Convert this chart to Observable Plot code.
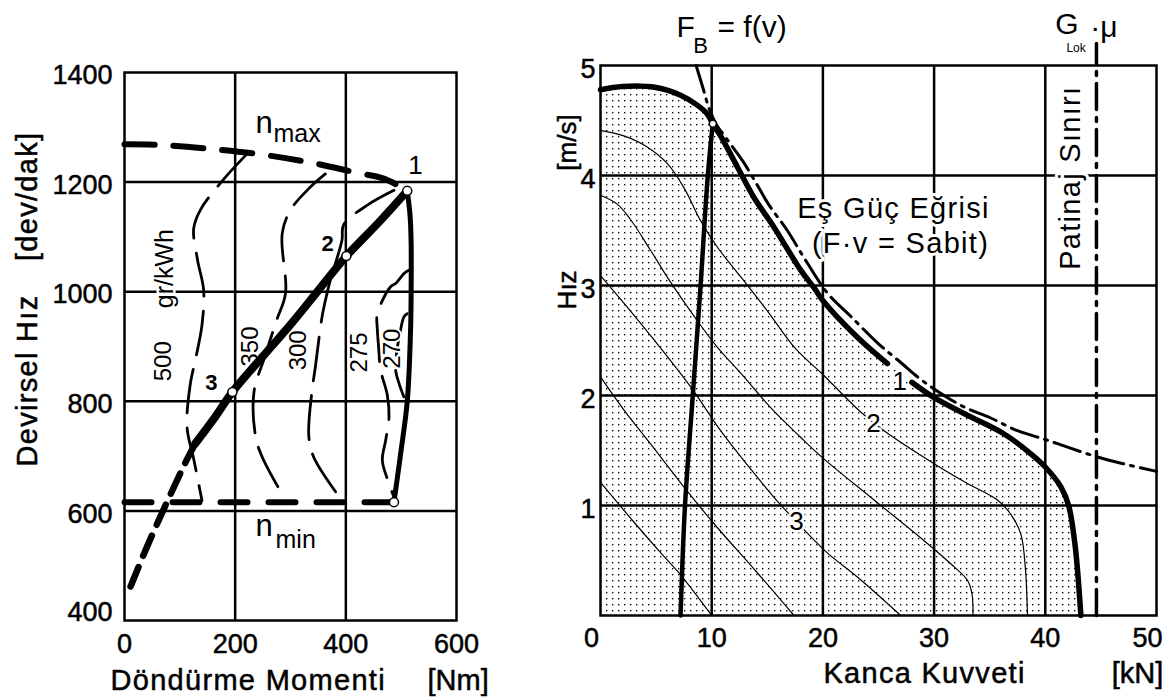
<!DOCTYPE html>
<html><head><meta charset="utf-8">
<script src="https://cdn.jsdelivr.net/npm/d3@7"></script>
<script src="https://cdn.jsdelivr.net/npm/@observablehq/plot@0.6"></script>
<style>
body{margin:0;background:#fff;}
#wrap{position:relative;width:1176px;height:700px;overflow:hidden;background:#fff;}
#left{position:absolute;left:0;top:0;}
#right{position:absolute;left:560px;top:0;}
g[aria-label="x-axis tick label"] text, g[aria-label="y-axis tick label"] text {stroke:black;stroke-width:0.5px;}
</style></head><body>
<div id="wrap"><div id="left"></div><div id="right"></div></div>
<script>
// ================= LEFT PANEL DATA (torque [Nm], speed [dev/dak]) =================
const leftTicksX = [0, 200, 400, 600];
const leftTicksY = [400, 600, 800, 1000, 1200, 1400];
const leftGridX = [200, 400];
const leftGridY = [600, 800, 1000, 1200];

const nMax = [[0,1269],[60,1268],[150,1261],[250,1250],[340,1235],[420,1217],[470,1206],[511,1184]];
const nMin = [[0,616],[487,616]];
const optimalSolid = [[128,723],[160,766],[195,817],[250,882],[300,940],[350,1002],[401,1065],[460,1127],[511,1184]];
const optimalDashed = [[128,723],[110,688],[90,645],[65,590],[40,533],[11,462]];
const fullLoad = [[511,1184],[516,1140],[518,1090],[518,1000],[517,930],[511,800],[499,704],[487,616]];
const c500 = [[222,1252],[179,1205],[137,1149],[125,1115],[132,1058],[143,1003],[140,939],[128,875],[119,832],[113,753],[125,695],[140,619]];
const c350 = [[363,1215],[336,1191],[300,1149],[285,1106],[291,997],[275,948],[253,880],[234,817],[237,735],[249,698],[288,625]];
const c300 = [[487,1185],[439,1158],[396,1122],[393,1094],[372,1021],[366,997],[357,954],[345,863],[339,820],[333,738],[342,698],[393,619]];
const c275 = [[514,1039],[505,1033],[490,1015],[481,1009],[457,960],[457,930],[459,902],[463,857],[475,811],[478,771],[472,729],[466,692],[478,650],[487,625]];
const c270 = [[511,960],[505,954],[498,925],[492,890],[490,857],[497,830],[505,808]];
const leftPoints = [[511,1184],[401,1065],[195,817],[487,616]];
const leftNumLabels = [{t:"2",x:367,y:1088},{t:"3",x:157,y:833}];
const leftOneLabel = [{t:"1",x:526,y:1230}];
const contourLabels = [{t:"500",x:69.6,y:873},{t:"350",x:227.7,y:900},{t:"300",x:314.5,y:893},{t:"275",x:424.7,y:889},{t:"270",x:484.3,y:896}];
const unitLabel = [{t:"gr/kWh",x:72.3,y:1042}];
const nLabels = [{t:"n",x:236.7,y:1288.7},{t:"n",x:236.7,y:555}];
const nSubLabels = [{t:"max",x:269.3,y:1272.3},{t:"min",x:272.9,y:533.2}];
const leftTitleX = [{t:"Döndürme Momenti",x:-25.3,y:272.3},{t:"[Nm]",x:547.6,y:272.3}];
const leftTitleY = [{t:"Devirsel Hız",x:-175,y:838},{t:"[dev/dak]",x:-175,y:1174}];

// ================= RIGHT PANEL DATA (hook force [kN], speed [m/s]) =================
const rightTicksInner = [10, 20, 30, 40];
const rightTicksEdge = [0, 50];
const rightTicksY = [1, 2, 3, 4, 5];
const rightGridX = [10, 20, 30, 40];
const rightGridY = [1, 2, 3, 4];

const envelope = [[0,4.78],[2,4.81],[5,4.80],[7.2,4.73],[8.7,4.64],[9.6,4.56],[10.1,4.47],[10.8,4.36],[12.3,4.08],[13.8,3.80],[15.6,3.53],[18,3.14],[19.2,2.98],[20.1,2.85],[23.1,2.53],[25.8,2.29],[28,2.12],[30,1.98],[33,1.82],[36.3,1.65],[38.7,1.47],[40,1.35],[41.4,1.17],[42.1,1.0],[42.7,0.62],[43.2,0]];
const isoPower = [[8.6,5.0],[9.2,4.8],[9.8,4.6],[10.5,4.45],[11.3,4.34],[12.8,4.13],[14,3.93],[15.1,3.74],[16.8,3.5],[18.5,3.22],[20.5,2.92],[22.5,2.72],[25,2.47],[27,2.3],[28.5,2.17],[30,2.06],[32.6,1.9],[35,1.8],[37.5,1.68],[40,1.6],[42,1.53],[44.4,1.45],[47,1.38],[50,1.31]];
const curveA = [[0,4.41],[2.1,4.36],[4.2,4.26],[6,4.11],[7.5,3.89],[9,3.59],[10.5,3.35],[12.6,3.08],[15,2.77],[17.5,2.43],[19.9,2.2],[23.4,1.85],[25.5,1.68],[30,1.38],[33,1.2],[35.7,1.05],[36.9,0.92],[37.8,0.74],[38.2,0.44],[38.4,0]];
const curveB = [[0,3.82],[1.5,3.74],[2.7,3.6],[4.5,3.32],[6.3,3.03],[8.7,2.68],[10.5,2.44],[12.9,2.17],[15.3,1.89],[18,1.62],[19.9,1.44],[24.6,1.05],[29.1,0.68],[31.5,0.47],[33,0.32],[33.4,0.2],[33.5,0]];
const curveC = [[0,3.09],[2.1,2.84],[5.1,2.47],[8.1,2.08],[10.8,1.68],[13.2,1.37],[15.9,1.04],[18.4,0.77],[20.5,0.56],[23.1,0.35],[27,0]];
const curveD = [[0,2.17],[2.1,1.87],[4.5,1.56],[7.8,1.13],[10.5,0.8],[14,0.4],[17.4,0]];
const curveE = [[0,1.21],[3,0.85],[5.5,0.56],[7.2,0.37],[10,0]];
const tractionFB = [[7.2,0],[7.6,1.0],[8.3,2.0],[9.0,3.0],[9.65,4.0],[10.1,4.47]];
const slipLimit = [[44.6,0],[44.6,5.2]];
const rightPoints = [[10.1,4.47]];
const curveNumLabels = [{t:"1",x:26.9,y:2.13},{t:"2",x:24.55,y:1.745},{t:"3",x:17.63,y:0.855}];
const isoLabels = [{t:"Eş Güç Eğrisi",x:26.35,y:3.61},{t:"(F·v = Sabit)",x:26.98,y:3.30}];
const slipLabel = [{t:"Patinaj Sınırı",x:42.27,y:3.98}];
const topBig = [{t:"F",x:6.83,y:5.255},{t:"= f(v)",x:10.52,y:5.255},{t:"G",x:40.9,y:5.29},{t:"·μ",x:44.05,y:5.26}];
const topSub = [{t:"B",x:8.35,y:5.118,s:22},{t:"Lok",x:41.9,y:5.125,s:12}];
const rightTitleX = [{t:"Kanca Kuvveti",x:29.14,y:-0.618},{t:"[kN]",x:48.3,y:-0.618}];
const rightTitleY = [{t:"Hız",x:-2.95,y:2.96},{t:"[m/s]",x:-2.95,y:4.3}];

// ================= DRAW =================
const FONT = "'Liberation Sans', Arial, Helvetica, sans-serif";
const xy = a => a.map(([x, y]) => ({x, y}));
const style = {fontFamily: FONT, fontSize: "27px", color: "black", background: "white", overflow: "visible"};
const gridOpt = {stroke: "black", strokeOpacity: 1, strokeWidth: 2.5};
const fmt = d => String(d);
const txt = (data, o) => Plot.text(data, {x: "x", y: "y", text: "t", fill: "black", ...o});
const heavy = {stroke: "black", strokeWidth: 0.5};

const left = Plot.plot({
  width: 560, height: 700, marginLeft: 124, marginRight: 104, marginTop: 72, marginBottom: 80,
  style,
  x: {domain: [0, 600], range: [124, 456]},
  y: {domain: [400, 1400], range: [620, 72]},
  marks: [
    Plot.gridX(leftGridX, gridOpt),
    Plot.gridY(leftGridY, gridOpt),
    Plot.frame({stroke: "black", strokeWidth: 2.5}),
    Plot.axisX(leftTicksX, {tickSize: 0, tickPadding: 13, tickFormat: fmt, fontSize: 27, label: null}),
    Plot.axisY(leftTicksY.filter(d => d > 400), {tickSize: 0, tickPadding: 12, tickFormat: fmt, fontSize: 27, dy: 3, label: null}),
    Plot.axisY([400], {tickSize: 0, tickPadding: 12, tickFormat: fmt, fontSize: 27, dy: -8, label: null}),
    // fuel consumption contours
    ...[c500, c350, c300, c275, c270].map(c =>
      Plot.line(xy(c), {x: "x", y: "y", stroke: "black", strokeWidth: 2.8, strokeDasharray: "44,15", curve: "catmull-rom"})),
    txt(contourLabels, {rotate: -90, fontSize: 24, stroke: "white", strokeWidth: 4}),
    txt(unitLabel, {rotate: -90, fontSize: 25, stroke: "white", strokeWidth: 5}),
    // speed limits
    Plot.line(xy(nMax), {x: "x", y: "y", stroke: "black", strokeWidth: 6, strokeDasharray: "30,19", curve: "catmull-rom"}),
    Plot.line(xy(nMin), {x: "x", y: "y", stroke: "black", strokeWidth: 6, strokeDasharray: "27,21"}),
    // full-load torque curve
    Plot.line(xy(fullLoad), {x: "x", y: "y", stroke: "black", strokeWidth: 5, curve: "catmull-rom"}),
    // optimum operating line
    Plot.line(xy(optimalSolid), {x: "x", y: "y", stroke: "black", strokeWidth: 8, curve: "catmull-rom"}),
    Plot.line(xy(optimalDashed), {x: "x", y: "y", stroke: "black", strokeWidth: 6.5, strokeDasharray: "22,12", curve: "catmull-rom"}),
    Plot.dot(xy(leftPoints), {x: "x", y: "y", r: 4.5, fill: "white", stroke: "black", strokeWidth: 1.5}),
    txt(leftNumLabels, {fontSize: 22, fontWeight: "bold"}),
    txt(leftOneLabel, {fontSize: 26}),
    txt(nLabels, {fontSize: 31, textAnchor: "start", lineAnchor: "bottom"}),
    txt(nSubLabels, {fontSize: 25, textAnchor: "start", lineAnchor: "bottom"}),
    txt(leftTitleX, {fontSize: 29, textAnchor: "start", lineAnchor: "bottom", ...heavy}),
    txt(leftTitleY, {fontSize: 29, rotate: -90, ...heavy})
  ]
});
document.getElementById("left").appendChild(left);

const right = Plot.plot({
  width: 616, height: 700, marginLeft: 40, marginRight: 20, marginTop: 65, marginBottom: 85,
  style,
  x: {domain: [0, 50], range: [40, 596]},
  y: {domain: [0, 5], range: [615, 65]},
  marks: [
    Plot.areaY(xy(envelope), {x: "x", y: "y", fill: "url(#dots)", curve: "catmull-rom"}),
    Plot.gridX(rightGridX, gridOpt),
    Plot.gridY(rightGridY, gridOpt),
    Plot.frame({stroke: "black", strokeWidth: 2.5}),
    Plot.axisX(rightTicksInner, {tickSize: 0, tickPadding: 12, tickFormat: fmt, fontSize: 27, label: null}),
    Plot.axisX(rightTicksEdge, {tickSize: 0, tickPadding: 12, tickFormat: fmt, fontSize: 27, dx: -9, label: null}),
    Plot.axisY(rightTicksY, {tickSize: 0, tickPadding: 5, tickFormat: fmt, fontSize: 27, dy: 4, label: null}),
    txt(isoLabels, {fontSize: 29, lineAnchor: "bottom", stroke: "white", strokeWidth: 6}),
    txt(slipLabel, {fontSize: 29, rotate: -90, stroke: "white", strokeWidth: 6}),
    ...[curveA, curveB, curveC, curveD, curveE].map(c =>
      Plot.line(xy(c), {x: "x", y: "y", stroke: "black", strokeWidth: 1.2, curve: "catmull-rom"})),
    Plot.line(xy(isoPower), {x: "x", y: "y", stroke: "black", strokeWidth: 3, strokeDasharray: "28,7,3,7", curve: "catmull-rom"}),
    Plot.line(xy(slipLimit), {x: "x", y: "y", stroke: "black", strokeWidth: 3.5, strokeDasharray: "26,8,4,8"}),
    Plot.line(xy(tractionFB), {x: "x", y: "y", stroke: "black", strokeWidth: 4.5, curve: "catmull-rom"}),
    Plot.line(xy(envelope.filter(d => d[0] <= 25.8)), {x: "x", y: "y", stroke: "black", strokeWidth: 5.5, curve: "catmull-rom"}),
    Plot.line(xy(envelope.filter(d => d[0] >= 28)), {x: "x", y: "y", stroke: "black", strokeWidth: 5.5, curve: "catmull-rom"}),
    Plot.dot(xy(rightPoints), {x: "x", y: "y", r: 3.5, fill: "white", stroke: "black", strokeWidth: 1.5}),
    txt(curveNumLabels, {fontSize: 26, stroke: "white", strokeWidth: 5}),
    txt(topBig, {fontSize: 30, textAnchor: "start", lineAnchor: "bottom"}),
    txt(topSub, {fontSize: "s", textAnchor: "start", lineAnchor: "bottom"}),
    txt(rightTitleX, {fontSize: 29, lineAnchor: "bottom", ...heavy}),
    txt(rightTitleY, {fontSize: 26, rotate: -90, ...heavy})
  ]
});
// dotted stipple pattern used by the area fill
const defs = d3.select(right).insert("defs", ":first-child");
const pat = defs.append("pattern").attr("id", "dots").attr("patternUnits", "userSpaceOnUse")
  .attr("x", 2).attr("y", 2).attr("width", 6).attr("height", 6);
pat.append("rect").attr("x", 2).attr("y", 2).attr("width", 1.35).attr("height", 1.35).attr("fill", "black");
document.getElementById("right").appendChild(right);

// slightly wider lettering for the large titles, as in the reference
d3.selectAll("#wrap svg text").filter(function () {
  return /Momenti|Kuvveti|Eğrisi|Sabit|Patinaj|Devirsel|dev\/dak/.test(this.textContent);
}).attr("letter-spacing", "1.3px");
</script></body></html>
